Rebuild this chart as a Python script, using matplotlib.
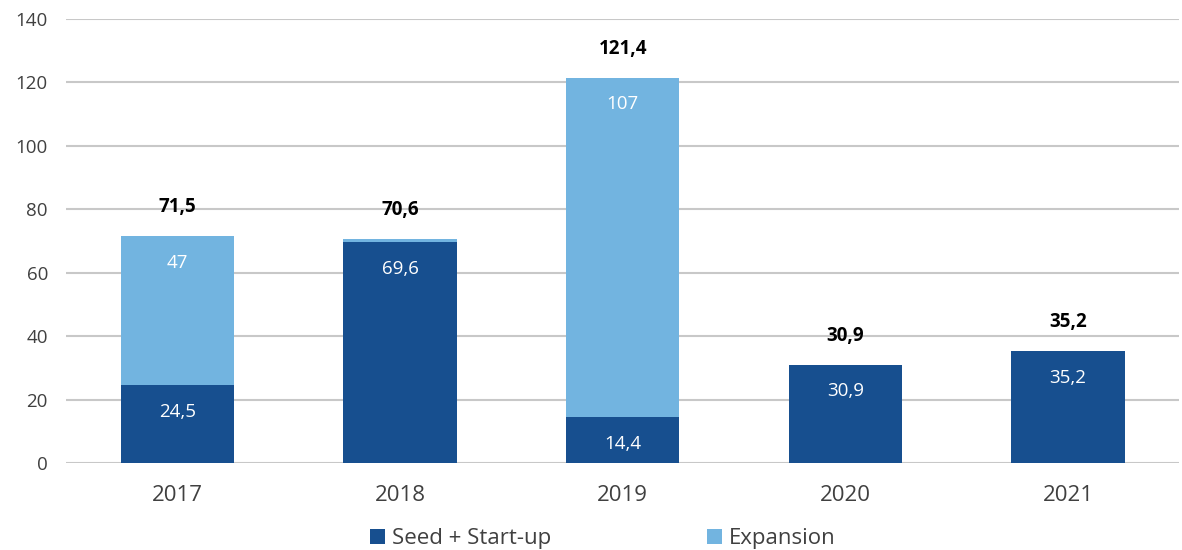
import numpy as np
import matplotlib
matplotlib.use("Agg")
import matplotlib.pyplot as plt

plt.rcParams['font.family'] = ['Open Sans', 'DejaVu Sans']

years = ['2017', '2018', '2019', '2020', '2021']
seed_startup = [24.5, 69.6, 14.4, 30.9, 35.2]
expansion = [47.0, 1.0, 107.0, 0.0, 0.0]
totals = [71.5, 70.6, 121.4, 30.9, 35.2]

seed_labels = ['24,5', '69,6', '14,4', '30,9', '35,2']
exp_labels = ['47', '', '107', '', '']
total_labels = ['71,5', '70,6', '121,4', '30,9', '35,2']

dark_blue = '#174F8F'
light_blue = '#72B4E0'

fig = plt.figure(figsize=(11.82, 5.5), dpi=100)
ax = fig.add_axes([0.0558, 0.158, 0.942, 0.8075])

x = np.arange(len(years))
w = 0.51
b1 = ax.bar(x, seed_startup, w, color=dark_blue, label='Seed + Start-up', zorder=3)
b2 = ax.bar(x, expansion, w, bottom=seed_startup, color=light_blue, label='Expansion', zorder=3)

# values inside each segment, just under its top edge
for i in range(len(years)):
    if seed_labels[i]:
        ax.annotate(seed_labels[i], (x[i], seed_startup[i]), xytext=(0, -19),
                    textcoords='offset points', ha='center', va='center',
                    color='white', fontsize=13.5, zorder=4)
    if exp_labels[i]:
        ax.annotate(exp_labels[i], (x[i], seed_startup[i] + expansion[i]), xytext=(0, -19),
                    textcoords='offset points', ha='center', va='center',
                    color='white', fontsize=13.5, zorder=4)
    ax.annotate(total_labels[i], (x[i], totals[i]), xytext=(0, 21),
                textcoords='offset points', ha='center', va='center',
                color='black', fontsize=13.5, fontweight='bold', zorder=4)

ax.set_ylim(0, 140)
ax.set_yticks(np.arange(0, 141, 20))
ax.set_xlim(-0.5, len(years) - 0.5)
ax.set_xticks(x)
ax.set_xticklabels(years)
ax.yaxis.grid(True, color='#C8C8C8', linewidth=1.5, zorder=0)
ax.set_axisbelow(True)
for s in ax.spines.values():
    s.set_visible(False)
ax.tick_params(axis='y', length=0, pad=13, labelsize=13.5, labelcolor='#404040')
ax.tick_params(axis='x', length=0, pad=16, labelsize=16, labelcolor='#404040')

fig.legend(handles=[b1, b2], loc='lower center', bbox_to_anchor=(0.51, -0.035), ncol=2,
           frameon=False, fontsize=16, handlelength=0.7, handleheight=0.7,
           handletextpad=0.3, columnspacing=7.0, labelcolor='#404040')

fig.savefig('out.png', dpi=100)
